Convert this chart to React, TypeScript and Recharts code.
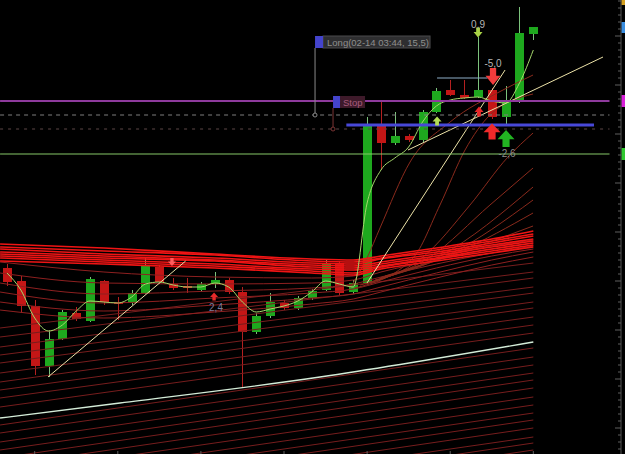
import React from 'react';
import { ComposedChart, Bar, Line, XAxis, YAxis, ReferenceLine, ReferenceDot } from 'recharts';

// ---------- candles (index on x, price units on y) ----------
const candleX = [0,1,2,3,4,5,6,7,8,9,10,11,12,13,14,15,16,17,18,19,20,21,22,23,24,25,26,27,28,29,30,31,32,33,34,35,36,37,38];
const opens  = [186,173,148,88,115,141,133,173,152,151,161,187,170,168,164,170,174,162,122,138,151,146,156,164,191,162,171,328,311,318,314,342,364,359,357,364,337,352,420];
const closes = [172,148,88,115,142,135,175,152,151,161,188,172,166,167,170,174,162,122,138,152,146,156,163,191,161,171,328,311,318,314,342,363,359,356,364,337,352,421,427];
const highs  = [190,178,154,124,144,147,177,174,157,164,197,189,176,176,172,182,176,167,141,161,154,158,165,195,193,174,337,354,342,320,344,366,374,374,417,366,368,447,427];
const lows   = [168,141,79,77,114,133,132,149,134,149,160,170,164,161,163,166,160,66,120,136,144,144,154,163,159,160,170,284,309,312,312,341,358,355,356,335,330,351,414];

// fast moving average (light green)
const fastMA = [181,164,136,123,129,143,153,152,151,157,170,172,169,167,167,171,167,152,142,145,148,153,162,173,170,167,251,284,296,307,332,348,354,356,357,353,351,371,404];

// ---------- ribbon ----------
const ribbonX = [-0.5, 7, 15, 22, 25, 27, 31, 35, 38];
const bandLines = [
  [210,206,200,195,194,198,206,215,223],
  [207,203,199,193,192,196,204,213,220],
  [205,200,196,191,190,195,202,211,218],
  [202,198,194,189,188,192,200,209,215],
  [200,196,193,187,186,190,198,207,213],
  [198,194,190,185,184,188,196,205,211],
  [196,192,188,183,181,187,195,203,209],
  [193,190,186,181,179,185,193,201,207],
];
const curvedLines = [
  [192,182,177,176,178,186,198,208,214],
  [181,171,170,171,174,182,194,205,211],
  [171,160,163,166,170,177,190,201,208],
  [162,151,156,161,165,172,186,198,205],
  [152,143,149,156,160,167,181,194,202],
  [144,136,142,150,155,162,176,189,197],
];
const parallelLeft  = [126,117,107,99,91,81,72,64,56,47,29,21,12,4,-4,-12,-20,-28,-36,-44,-52,-60,-68,-76];
const parallelRight = [191,182,176,167,161,152,146,137,129,121,106,97,89,81,74,66,57,49,41,34,26,17,11,4];
const fanLines = [
  [[24.77,166],[25.99,196],[26.93,226],[29.10,292],[31.99,332],[35.81,364],[37.98,379]],
  [[25.13,166],[29.31,196],[31.26,249],[33.07,304],[34.87,339],[37.98,360]],
  [[25.49,169],[30.04,197],[33.43,249],[36.17,297],[37.98,321]],
  [[25.85,170],[30.54,197],[34.87,249],[37.98,286]],
  [[26.21,172],[31.26,198],[37.98,267]],
  [[26.57,174],[31.99,200],[37.98,254]],
  [[26.93,176],[32.71,203],[37.98,241]],
  [[27.29,178],[33.43,205],[37.98,228]],
];
const slowLine = [[-0.5,36],[8.16,51],[22.6,77],[38,112]];
const trendLines = [
  [[2.96,77],[12.9,193]],
  [[25.99,171],[35.96,384]],
  [[28.95,304],[43.03,397]],
];

// ---------- levels ----------
const purpleLevel = 353;
const greenLevel = 300;
const dashedLevel = 339;
const dottedLevel = 325;
const blueLevel = 329;
const blueFrom = 24.5, blueTo = 42.38;
const capLevel = 376;
const capFrom = 31.05, capTo = 34.7;
const levelEnd = 43.5;

// ---------- tags / markers ----------
const longTag = { x: 22.24, v: 412, text: 'Long(02-14 03:44, 15,5)', lineTo: 339 };
const stopTag = { x: 23.54, v: 352, text: 'Stop', lineTo: 325 };
const arrowX = [34.01, 35.09, 34.08, 35.02, 36.03, 31.05, 14.95, 11.91];
const arrowV = [421.5, 377.5, 342.5, 322.5, 315.5, 333, 157.5, 192];
const arrowUp = [false, false, true, true, true, true, true, false];
const arrowStyle = [
  { w: 9, h: 10, c: '#a9d245' },
  { w: 15, h: 17, c: '#f23c3c' },
  { w: 9, h: 10, c: '#e82828' },
  { w: 17, h: 16, c: '#f02a2a' },
  { w: 17, h: 17, c: '#22b422' },
  { w: 9, h: 9, c: '#b4dc55' },
  { w: 8, h: 8, c: '#e82a2a' },
  { w: 8, h: 8, c: '#ff5c5c' },
];
const valueLabels = ['0,9', '-5,0', '-2,6', '2,4'];
const valueLabelX = [34.01, 35.09, 36.1, 15.09];
const valueLabelV = [430, 391, 301, 147];
const valueLabelColor = ['#b4b4b4', '#b4b4b4', '#8c8c8c', '#7c7c9c'];

const priceTagV = [[454, 449], [432, 421], [359, 347], [306, 294]];
const priceTagColor = ['#d4a020', '#3a8ee0', '#d820d8', '#30c830'];

const yTicks = [5,12,19,26,33,40,47,54,61,68,75,82,89,96,103,110,117,124,131,138,145,152,159,166,173,180,187,194,201,208,215,222,229,236,243,250,257,264,271,278,285,292,299,306,313,320,327,334,341,348,355,362,369,376,383,390,397,404,411,418,425,432,439,446,453];
const yMajor = [26, 75, 124, 173, 222, 271, 320, 369, 418];
const xTicks = [2, 8, 14, 20, 26, 32, 38];

const FONT = '"Liberation Sans", Arial, sans-serif';
const GREEN = '#1ea81e';
const RED = '#c41616';
const BODY_W = 9;

const candles = candleX.map((x, i) => ({ x, o: opens[i], c: closes[i], h: highs[i], l: lows[i] }));
const toPts = (arr: number[][]) => arr.map(([x, v]) => ({ x, v }));
const ribbonPts = (arr: number[]) => arr.map((v, j) => ({ x: ribbonX[j], v }));

const CandleShape = (props: any) => {
  const { x, y, width, height, payload } = props;
  if (!payload || x == null || y == null) return null;
  const top = Math.min(y, y + height);
  const hpx = Math.abs(height);
  const range = payload.h - payload.l;
  const k = range > 0 ? hpx / range : 0;
  const up = payload.c > payload.o;
  const bodyTop = top + (payload.h - Math.max(payload.o, payload.c)) * k;
  let bodyH = Math.abs(payload.o - payload.c) * k;
  if (bodyH < 2) bodyH = 2;
  const center = x + (width || 0) / 2;
  const cx = Math.round(center) + 0.5;
  return (
    <g>
      <line x1={cx} x2={cx} y1={top} y2={top + hpx} stroke={up ? '#7cc27c' : '#b42020'} strokeWidth={1} />
      <rect x={cx - BODY_W / 2} y={bodyTop} width={BODY_W} height={bodyH} fill={up ? GREEN : RED} />
    </g>
  );
};

const arrowPath = (cx: number, cy: number, w: number, h: number, up: boolean) => {
  const hh = h * 0.55;
  const sw = w * 0.42;
  const s = up ? 1 : -1;
  const tip = cy - s * h / 2;
  const base = cy + s * h / 2;
  const neck = tip + s * hh;
  return `M${cx},${tip} L${cx + w / 2},${neck} L${cx + sw / 2},${neck} L${cx + sw / 2},${base} L${cx - sw / 2},${base} L${cx - sw / 2},${neck} L${cx - w / 2},${neck} Z`;
};

const yMajorSet = new Set(yMajor);
const YTick = (p: any) => {
  const major = yMajorSet.has(p.payload?.value);
  return <line x1={p.x - (major ? 6 : 3)} x2={p.x} y1={p.y} y2={p.y} stroke="#5e5e5e" strokeWidth={1} />;
};
const XTick = (p: any) => <line x1={p.x} x2={p.x} y1={p.y - 3} y2={p.y} stroke="#5e5e5e" strokeWidth={1} />;

export default function App() {
  return (
    <div style={{ position: 'absolute', left: 0, top: 0, width: 625, height: 454, background: '#000', overflow: 'hidden' }}>
      <ComposedChart width={625} height={454} data={candles} margin={{ top: 0, right: 4, bottom: 0, left: 0 }}>
        <XAxis type="number" dataKey="x" domain={[-0.505, 44.33]} allowDataOverflow ticks={xTicks} interval={0}
          orientation="bottom" mirror axisLine={false} tickLine={false} tickSize={0} tickMargin={0} tick={XTick} height={10} />
        <YAxis type="number" domain={[0, 454]} allowDataOverflow orientation="right" mirror ticks={yTicks} interval={0}
          tickSize={0} tickMargin={0} tickLine={false} tick={YTick} axisLine={{ stroke: '#555' }} width={40} />

        <Bar dataKey={(d: any) => [d.l, d.h]} barSize={9} shape={CandleShape} isAnimationActive={false} />

        {parallelLeft.map((lv, i) => (
          <Line key={'p' + i} data={[{ x: -0.5, v: lv }, { x: 38, v: parallelRight[i] }]} dataKey="v" type="linear"
            stroke="#761d1d" strokeWidth={1} dot={false} activeDot={false} isAnimationActive={false} />
        ))}
        {curvedLines.map((arr, i) => (
          <Line key={'c' + i} data={ribbonPts(arr)} dataKey="v" type="monotone"
            stroke="#8e2020" strokeWidth={1} dot={false} activeDot={false} isAnimationActive={false} />
        ))}
        {fanLines.map((arr, i) => (
          <Line key={'f' + i} data={toPts(arr)} dataKey="v" type="monotone"
            stroke="#8a2a1c" strokeWidth={1} dot={false} activeDot={false} isAnimationActive={false} />
        ))}
        {bandLines.map((arr, i) => (
          <Line key={'b' + i} data={ribbonPts(arr)} dataKey="v" type="monotone"
            stroke="#f01414" strokeWidth={1.6} dot={false} activeDot={false} isAnimationActive={false} />
        ))}
        <Line data={toPts(slowLine)} dataKey="v" type="monotone" stroke="#d4ecd8" strokeWidth={1.3}
          dot={false} activeDot={false} isAnimationActive={false} />
        {trendLines.map((arr, i) => (
          <Line key={'t' + i} data={toPts(arr)} dataKey="v" type="linear" stroke="#ece2a8" strokeWidth={1}
            dot={false} activeDot={false} isAnimationActive={false} />
        ))}
        <Line data={candleX.map((x, i) => ({ x, v: fastMA[i] }))} dataKey="v" type="monotone" stroke="#a6d86c" strokeWidth={1}
          dot={false} activeDot={false} isAnimationActive={false} />

        <ReferenceLine segment={[{ x: -0.5, y: greenLevel }, { x: levelEnd, y: greenLevel }]} stroke="#86c868" strokeWidth={1} />
        <ReferenceLine segment={[{ x: -0.5, y: dottedLevel }, { x: levelEnd, y: dottedLevel }]} stroke="#5c4646" strokeWidth={1} strokeDasharray="3 5" />
        <ReferenceLine segment={[{ x: -0.5, y: dashedLevel }, { x: levelEnd, y: dashedLevel }]} stroke="#7e7e7e" strokeWidth={1} strokeDasharray="4 4" />
        <ReferenceLine segment={[{ x: -0.5, y: purpleLevel }, { x: levelEnd, y: purpleLevel }]} stroke="#8e3a9c" strokeWidth={2} />
        <ReferenceLine segment={[{ x: blueFrom, y: blueLevel }, { x: blueTo, y: blueLevel }]} stroke="#4848d8" strokeWidth={3} />
        <ReferenceLine segment={[{ x: capFrom, y: capLevel }, { x: capTo, y: capLevel }]} stroke="#8eaec8" strokeWidth={1} />
        <ReferenceLine segment={[{ x: longTag.x, y: longTag.v - 6 }, { x: longTag.x, y: longTag.lineTo }]} stroke="#8a8a8a" strokeWidth={1} />
        <ReferenceLine segment={[{ x: stopTag.x, y: stopTag.v - 6 }, { x: stopTag.x, y: stopTag.lineTo }]} stroke="#7a3434" strokeWidth={1} />

        <ReferenceDot x={longTag.x} y={longTag.lineTo} r={2} fill="#000" stroke="#8a8a8a" />
        <ReferenceDot x={stopTag.x} y={stopTag.lineTo} r={2} fill="#000" stroke="#7a3434" />

        <ReferenceDot x={longTag.x} y={longTag.v} r={1} shape={(p: any) => (
          <g>
            <rect x={p.cx + 8} y={p.cy - 6} width={107} height={12} fill="#2e2e30" stroke="#4a4a4c" strokeWidth={1} />
            <rect x={p.cx} y={p.cy - 6} width={8} height={12} fill="#4444cc" />
            <text x={p.cx + 12} y={p.cy + 3.5} fontFamily={FONT} fontSize={9.5} fill="#8e8e8e">{longTag.text}</text>
          </g>
        )} />
        <ReferenceDot x={stopTag.x} y={stopTag.v} r={1} shape={(p: any) => (
          <g>
            <rect x={p.cx + 7} y={p.cy - 6} width={25} height={12} fill="#3e1a2a" />
            <rect x={p.cx} y={p.cy - 6} width={7} height={12} fill="#4444cc" />
            <text x={p.cx + 10} y={p.cy + 3.5} fontFamily={FONT} fontSize={9.5} fill="#a85a7c">{stopTag.text}</text>
          </g>
        )} />

        {arrowX.map((x, i) => (
          <ReferenceDot key={'a' + i} x={x} y={arrowV[i]} r={1} shape={(p: any) => (
            <path d={arrowPath(p.cx, p.cy, arrowStyle[i].w, arrowStyle[i].h, arrowUp[i])} fill={arrowStyle[i].c} />
          )} />
        ))}
        {valueLabels.map((t, i) => (
          <ReferenceDot key={'l' + i} x={valueLabelX[i]} y={valueLabelV[i]} r={1} shape={(p: any) => (
            <text x={p.cx} y={p.cy + 3.5} textAnchor="middle" fontFamily={FONT} fontSize={10} fill={valueLabelColor[i]}>{t}</text>
          )} />
        ))}
        {priceTagV.map((pv, i) => (
          <ReferenceDot key={'pt' + i} x={44.3} y={(pv[0] + pv[1]) / 2} r={1} ifOverflow="visible" shape={(p: any) => (
            <rect x={p.cx + 1} y={p.cy - (pv[0] - pv[1]) / 2} width={5} height={pv[0] - pv[1]} fill={priceTagColor[i]} />
          )} />
        ))}
      </ComposedChart>
    </div>
  );
}
